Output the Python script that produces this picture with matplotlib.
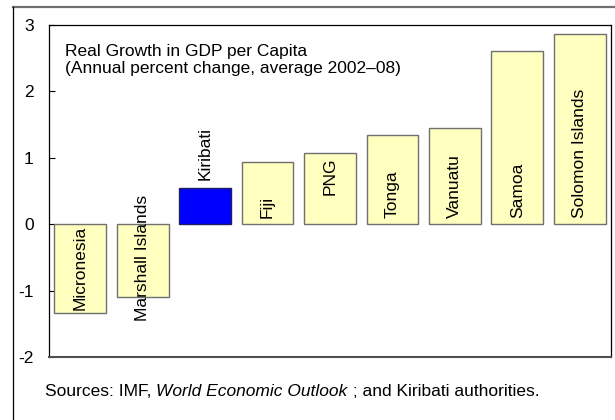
import matplotlib
matplotlib.use('Agg')
import matplotlib.pyplot as plt
from matplotlib.lines import Line2D

plt.rcParams['font.family'] = ['Liberation Sans', 'DejaVu Sans']
plt.rcParams['font.size'] = 12.5

countries = ['Micronesia', 'Marshall Islands', 'Kiribati', 'Fiji', 'PNG',
             'Tonga', 'Vanuatu', 'Samoa', 'Solomon Islands']
growth = [-1.33, -1.09, 0.55, 0.94, 1.07, 1.35, 1.45, 2.61, 2.87]
label_y = [-1.29, -1.46, 0.67, 0.09, 0.44, 0.09, 0.09, 0.09, 0.09]
highlight = 'Kiribati'
yticks = [-2, -1, 0, 1, 2, 3]

W, H = 615, 420
fig = plt.figure(figsize=(W / 100, H / 100), dpi=100)

# outer frame (only top and left edges fall inside the picture)
fig.add_artist(Line2D([13 / W, 1], [1 - 7 / H, 1 - 7 / H], color='#707070', lw=1.6))
fig.add_artist(Line2D([13 / W, 13 / W], [0, 1 - 7 / H], color='black', lw=0.9))

ax = fig.add_axes([49 / W, 63 / H, 562 / W, 332 / H])

colors = ['#0000ff' if c == highlight else '#ffffc0' for c in countries]
edges = ['#202060' if c == highlight else '#707070' for c in countries]
x = range(len(countries))
ax.bar(x, growth, width=0.83, color=colors, edgecolor=edges, linewidth=1.0, zorder=2)

for i, (name, ly) in enumerate(zip(countries, label_y)):
    ax.text(i, ly, name, rotation=90, ha='center', va='bottom', zorder=3)

ax.set_xlim(-0.5, 8.5)
ax.set_ylim(-2, 3)
ax.set_yticks(yticks)
ax.set_yticklabels([str(t) for t in yticks])
ax.set_xticks([])
ax.tick_params(axis='y', direction='in', length=4, width=0.8, pad=11)
for s in ['top', 'left', 'right']:
    ax.spines[s].set_linewidth(0.9)
ax.spines['bottom'].set_color('#505050')
ax.spines['bottom'].set_linewidth(1.5)

ax.text(16 / 562, 1 - 19 / 332,
        'Real Growth in GDP per Capita\n(Annual percent change, average 2002\u201308)',
        transform=ax.transAxes, ha='left', va='top', linespacing=1.15)

# source line: plain, italic, plain pieces chained one after another
t1 = fig.text(45 / W, 1 - 399 / H, 'Sources: IMF, ', ha='left', va='bottom')
t2 = ax.annotate('World Economic Outlook', xy=(1, 0), xycoords=t1,
                 style='italic', ha='left', va='bottom')
ax.annotate(' ; and Kiribati authorities.', xy=(1, 0), xycoords=t2,
            ha='left', va='bottom')

fig.savefig('out.png', dpi=100)
